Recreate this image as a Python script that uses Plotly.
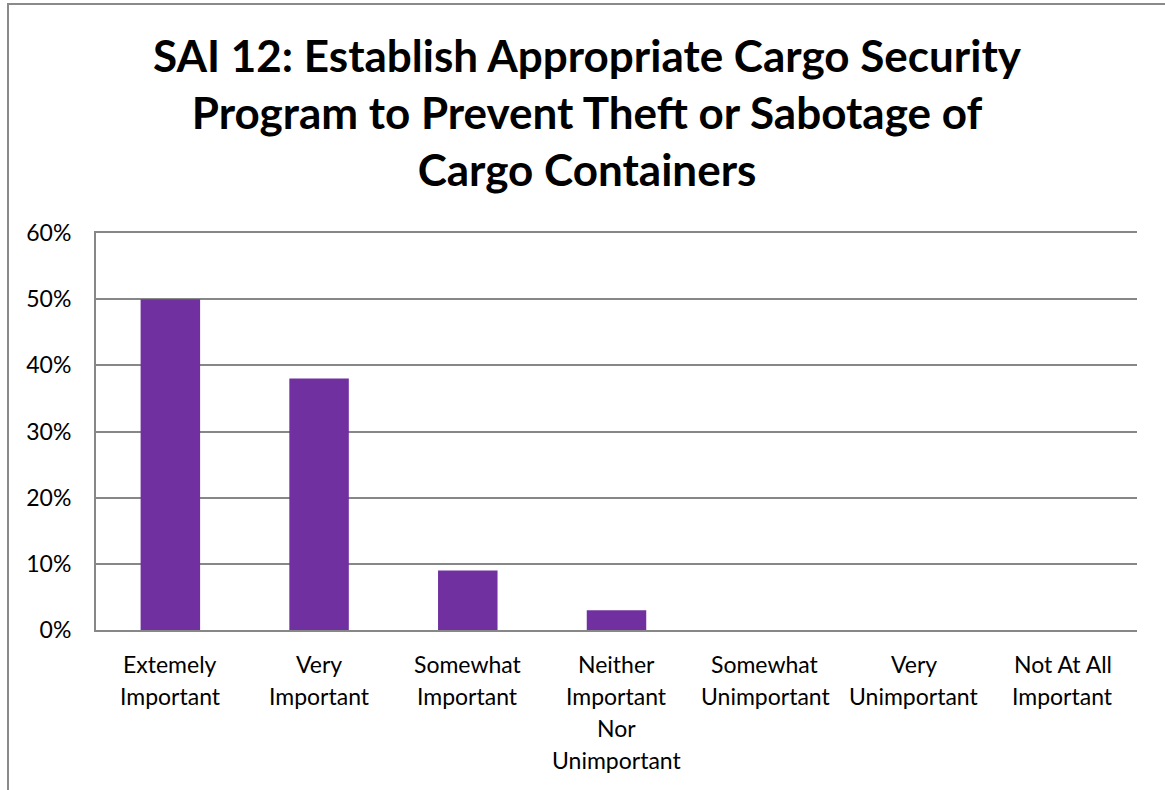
import plotly.graph_objects as go

# Survey responses for SAI 12
categories = ["Extemely Important", "Very Important", "Somewhat Important",
              "Neither Important Nor Unimportant", "Somewhat Unimportant",
              "Very Unimportant", "Not At All Important"]
label_lines = [["Extemely", "Important"], ["Very", "Important"],
               ["Somewhat", "Important"],
               ["Neither", "Important", "Nor", "Unimportant"],
               ["Somewhat", "Unimportant"], ["Very", "Unimportant"],
               ["Not At All", "Important"]]
shares = [0.50, 0.38, 0.09, 0.03, 0.0, 0.0, 0.0]
y_ticks = [0, 0.1, 0.2, 0.3, 0.4, 0.5, 0.6]

W, H = 1165, 790
L, R, T, B = 96, 28, 233, 160
plot_h = H - T - B
plot_w = W - L - R

FONT = "Lato"
GRID = "#878787"

fig = go.Figure(go.Bar(
    x=categories, y=shares, width=0.4,
    marker=dict(color="#7030A0", line=dict(width=0)),
))

# Multi-line category labels with wide line spacing
annotations = []
line_gap = 32
for cat, lines in zip(categories, label_lines):
    for i, text in enumerate(lines):
        annotations.append(dict(
            x=cat, xref="x", y=0, yref="paper", yanchor="middle",
            yshift=-(34 + i * line_gap), text=text, showarrow=False,
            font=dict(family=FONT, size=23, color="#000000"),
        ))

# Outer chart frame
fx0 = (8 - L) / plot_w
fx1 = (W + 10 - L) / plot_w
fy1 = (H - 4 - B) / plot_h
fy0 = (-20 - B) / plot_h

fig.update_layout(
    width=W, height=H,
    margin=dict(l=L, r=R, t=T, b=B),
    paper_bgcolor="white", plot_bgcolor="white",
    showlegend=False,
    title=dict(
        text="SAI 12: Establish Appropriate Cargo Security<br>"
             "Program to Prevent Theft or Sabotage of<br>Cargo Containers",
        x=587 / W, xanchor="center", y=1 - 72 / H, yanchor="middle",
        font=dict(family=FONT, size=44, color="#000000", weight="bold"),
    ),
    xaxis=dict(showticklabels=False, showgrid=False,
               showline=True, mirror=True, linecolor=GRID, linewidth=2,
               ticks="", zeroline=False),
    yaxis=dict(range=[0, 0.6], tickvals=y_ticks, tickformat=".0%",
               showgrid=True, gridcolor=GRID, gridwidth=2,
               showline=True, linecolor=GRID, linewidth=2,
               zeroline=False, ticks="", ticklabelstandoff=18,
               tickfont=dict(family=FONT, size=23, color="#000000")),
    annotations=annotations,
    shapes=[dict(type="rect", xref="paper", yref="paper",
                 x0=fx0, x1=fx1, y0=fy0, y1=fy1,
                 line=dict(color="#8a8a8a", width=2), layer="below")],
    bargap=0.6,
)

fig.write_html("out.html")
